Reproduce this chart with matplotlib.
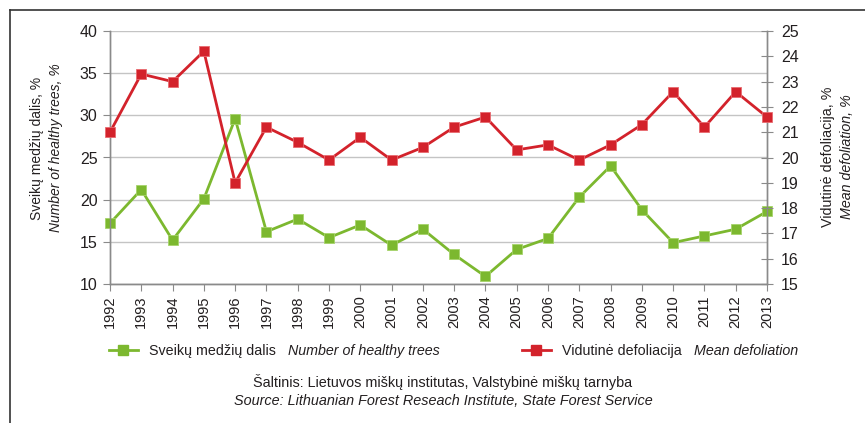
import matplotlib
matplotlib.use("Agg")
import matplotlib.pyplot as plt
from matplotlib.lines import Line2D

# ---------------------------------------------------------------------------
# Data
# ---------------------------------------------------------------------------
years = list(range(1992, 2014))
healthy = [17.2, 21.2, 15.2, 20.1, 29.6, 16.2, 17.7, 15.5, 17.0, 14.6, 16.5,
           13.5, 10.9, 14.1, 15.4, 20.3, 24.0, 18.8, 14.9, 15.7, 16.5, 18.6]
defoliation = [21.0, 23.3, 23.0, 24.2, 19.0, 21.2, 20.6, 19.9, 20.8, 19.9, 20.4,
               21.2, 21.6, 20.3, 20.5, 19.9, 20.5, 21.3, 22.6, 21.2, 22.6, 21.6]

GREEN = "#7cb82f"
RED = "#d3222b"
AXIS_GREY = "#8a8a8a"
TXT = "#231f20"

plt.rcParams["font.family"] = ["Liberation Sans", "DejaVu Sans"]

W, H = 865, 423
fig = plt.figure(figsize=(W / 100, H / 100), dpi=100)
ax = fig.add_axes([110 / W, 1 - 284 / H, (767 - 110) / W, (284 - 31) / H])
ax2 = ax.twinx()

# ---------------------------------------------------------------------------
# Series
# ---------------------------------------------------------------------------
ax.plot(years, healthy, color=GREEN, lw=2.0, marker="s", ms=7,
        mec="#a6d36a", mew=0.6, clip_on=False, zorder=3)
ax2.plot(years, defoliation, color=RED, lw=2.0, marker="s", ms=7,
         mec="#e86a70", mew=0.6, clip_on=False, zorder=3)

# left axis
ax.set_xlim(1992, 2013)
ax.set_ylim(10, 40)
ax.set_yticks(range(10, 41, 5))
ax.set_xticks(years)
ax.set_xticklabels([str(y) for y in years], rotation=90)
ax.grid(axis="y", color="#c4c4c4", lw=1.0)
ax.set_axisbelow(True)
ax.tick_params(axis="y", direction="out", length=5, color=AXIS_GREY,
               labelsize=11.5, labelcolor=TXT, pad=4)
ax.tick_params(axis="x", direction="out", length=5, color=AXIS_GREY,
               labelsize=10.5, labelcolor=TXT, pad=3)

# right axis
ax2.set_ylim(15, 25)
ax2.set_yticks(range(15, 26))
ax2.tick_params(axis="y", direction="inout", length=8, color=AXIS_GREY,
                labelsize=11.5, labelcolor=TXT, pad=6)

for a in (ax, ax2):
    a.spines["top"].set_visible(False)
    for s in ("left", "right", "bottom"):
        a.spines[s].set_color(AXIS_GREY)
        a.spines[s].set_linewidth(1.0)

# axis titles (regular + italic lines)
LBL = 10.3
fig.text(37 / W, 1 - 148 / H, "Sveikų medžių dalis, %", rotation=90,
         ha="center", va="center", fontsize=10, color=TXT)
fig.text(56 / W, 1 - 148 / H, "Number of healthy trees, %", rotation=90,
         ha="center", va="center", fontsize=10, color=TXT, style="italic")
fig.text(828 / W, 1 - 157 / H, "Vidutinė defoliacija, %", rotation=90,
         ha="center", va="center", fontsize=LBL, color=TXT)
fig.text(847 / W, 1 - 157 / H, "Mean defoliation, %", rotation=90,
         ha="center", va="center", fontsize=LBL, color=TXT, style="italic")

# ---------------------------------------------------------------------------
# Legend (two single-entry legends, italic English text appended after)
# ---------------------------------------------------------------------------
h_green = Line2D([], [], color=GREEN, lw=2.0, marker="s", ms=7, mec=GREEN)
h_red = Line2D([], [], color=RED, lw=2.0, marker="s", ms=7, mec=RED)
legends = []
for handle, label, x0, extra in [
        (h_green, "Sveikų medžių dalis", 109, "Number of healthy trees"),
        (h_red, "Vidutinė defoliacija", 522, "Mean defoliation")]:
    leg = fig.legend([handle], [label], loc="center left",
                     bbox_to_anchor=(x0 / W, 1 - 351 / H), frameon=False,
                     fontsize=LBL, handlelength=2.0, handletextpad=0.8,
                     borderpad=0, borderaxespad=0)
    for t in leg.get_texts():
        t.set_color(TXT)
    legends.append((leg, extra))

fig.canvas.draw()
renderer = fig.canvas.get_renderer()
for leg, extra in legends:
    bb = leg.get_texts()[0].get_window_extent(renderer)
    fig.text((bb.x1 + 12) / W, 1 - 351 / H, extra, ha="left", va="center",
             fontsize=LBL, color=TXT, style="italic")

# source lines
fig.text(443 / W, 1 - 382 / H,
         "Šaltinis: Lietuvos miškų institutas, Valstybinė miškų tarnyba",
         ha="center", va="center", fontsize=10.4, color=TXT)
fig.text(443 / W, 1 - 401 / H,
         "Source: Lithuanian Forest Reseach Institute, State Forest Service",
         ha="center", va="center", fontsize=10.4, color=TXT, style="italic")

# page frame (left and top rule)
fig.add_artist(Line2D([10 / W, 10 / W], [0, 1 - 10 / H], color="#333333",
                      lw=1.2, transform=fig.transFigure))
fig.add_artist(Line2D([10 / W, 1], [1 - 10 / H, 1 - 10 / H], color="#333333",
                      lw=1.2, transform=fig.transFigure))

fig.savefig("out.png", dpi=100)
